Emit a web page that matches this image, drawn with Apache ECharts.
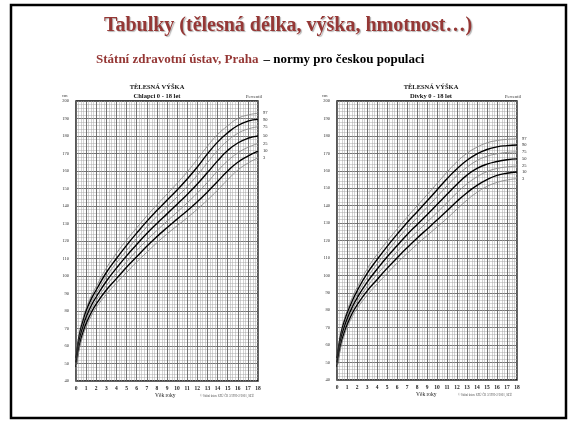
<!DOCTYPE html>
<html><head><meta charset="utf-8">
<script src="https://cdn.jsdelivr.net/npm/echarts@6/dist/echarts.min.js"></script>
<style>html,body{margin:0;padding:0;background:#fff}#c{width:576px;height:424px}</style>
</head><body><div id="c"></div>
<script>
const ages = [0, 0.25, 0.5, 0.75, 1, 1.5, 2, 3, 4, 5, 6, 7, 8, 9, 10, 11, 12, 13, 14, 15, 16, 17, 18];
const percentiles = ['97', '90', '75', '50', '25', '10', '3'];
const xTicks = [0, 18, 1];
const yTicks = [40, 200, 10];

const boysP3  = [46.5, 56, 62.5, 67, 71, 77, 82, 89.5, 96, 102, 108, 113.5, 119, 124, 128.7, 133.3, 138.2, 143.4, 149, 155, 160.5, 164.5, 167.5];
const boysP10 = [48, 57.5, 64, 68.8, 72.8, 79, 84, 92, 98.5, 105, 111, 117, 122.5, 127.6, 132.5, 137.3, 142.4, 148, 154, 160, 165, 168.5, 171.3];
const boysP25 = [49.2, 59, 65.6, 70.4, 74.6, 81, 86, 94.5, 101.5, 108, 114.5, 120.5, 126, 131.3, 136.5, 141.8, 147.4, 153.5, 160, 165.8, 170.3, 173.5, 175.7];
const boysP50 = [50.5, 60.5, 67.2, 72, 76.4, 83, 88, 97, 104.5, 111.5, 118, 124.3, 130, 135.5, 141, 146.6, 152.6, 159.1, 165.8, 171.7, 176, 178.7, 180];
const boysP75 = [51.8, 62, 68.8, 73.7, 78.2, 85, 90, 99.5, 107.5, 114.5, 121.5, 128, 134, 139.6, 145.2, 151.1, 157.6, 164.8, 171.6, 177.3, 181.5, 184, 185.3];
const boysP90 = [53, 63.5, 70.3, 75.3, 80, 86.8, 92, 102, 110, 117.5, 124.5, 131.2, 137.4, 143.3, 149.2, 155.4, 162.3, 169.8, 176.5, 181.8, 186, 188.5, 189.5];
const boysP97 = [54.5, 65, 72, 77, 81.5, 88.5, 94, 104.5, 113, 120.5, 127.5, 134.3, 140.7, 146.8, 153, 159.5, 166.7, 174.2, 180.8, 185.8, 190, 192, 193];

const girlsP3  = [46, 55, 61.5, 66, 70, 76, 81, 88.5, 95, 101, 107, 112.5, 117.8, 122.8, 127.7, 132.7, 138, 143.2, 147.6, 151, 153.3, 154.7, 155.5];
const girlsP10 = [47.5, 56.5, 63, 67.5, 71.5, 78, 83, 91, 97.5, 104, 110, 115.8, 121.3, 126.5, 131.7, 137, 142.5, 147.4, 151.6, 154.9, 157.3, 158.6, 159.3];
const girlsP25 = [48.8, 57.8, 64.5, 69, 73, 79.8, 85, 93.5, 100.5, 107, 113.5, 119.5, 125, 130.5, 136, 141.7, 147.4, 152.5, 156.5, 159.5, 161.3, 162.2, 162.7];
const girlsP50 = [50, 59.2, 66, 70.7, 74.8, 81.5, 87, 96, 103.5, 110.5, 117, 123.3, 129.1, 134.8, 140.6, 146.5, 152.3, 157.5, 161.3, 163.8, 165.3, 166.3, 166.8];
const girlsP75 = [51.2, 60.5, 67.5, 72.3, 76.5, 83.3, 89, 98.5, 106.5, 113.5, 120.5, 127, 133, 139, 145.1, 151.3, 157.2, 162, 165.8, 168.3, 169.7, 170.5, 170.8];
const girlsP90 = [52.5, 62, 69, 73.8, 78, 85, 91, 101, 109, 116.5, 123.5, 130.2, 136.4, 142.6, 149, 155.4, 161.2, 166, 169.7, 172.2, 173.7, 174.4, 174.8];
const girlsP97 = [53.5, 63.3, 70.5, 75.2, 79.5, 87, 93, 103.5, 112, 119.5, 126.5, 133.3, 139.8, 146.2, 152.7, 159.2, 165.2, 170, 173.5, 176, 177.3, 178, 178.3];

const boys = [boysP97, boysP90, boysP75, boysP50, boysP25, boysP10, boysP3];
const girls = [girlsP97, girlsP90, girlsP75, girlsP50, girlsP25, girlsP10, girlsP3];

const SERIF = '"Liberation Serif","Times New Roman",serif';

function xAxis(gi) {
  return {
    type: 'value', gridIndex: gi, min: xTicks[0], max: xTicks[1], interval: xTicks[2],
    axisLine: { show: false }, axisTick: { show: false },
    axisLabel: { fontSize: 5.5, fontFamily: SERIF, color: '#222', margin: 5, fontWeight: 'bold' },
    splitLine: { show: true, lineStyle: { color: '#666', width: 0.9 } },
    minorTick: { show: true, splitNumber: 4, length: 0 },
    minorSplitLine: { show: true, lineStyle: { color: '#a8a8a8', width: 0.5 } }
  };
}
function yAxis(gi) {
  return {
    type: 'value', gridIndex: gi, min: yTicks[0], max: yTicks[1], interval: yTicks[2],
    axisLine: { show: false }, axisTick: { show: false },
    axisLabel: { fontSize: 4.5, fontFamily: SERIF, color: '#333', margin: 7 },
    splitLine: { show: true, lineStyle: { color: '#666', width: 0.9 } },
    minorTick: { show: true, splitNumber: 5, length: 0 },
    minorSplitLine: { show: true, lineStyle: { color: '#a8a8a8', width: 0.5 } }
  };
}
function mkSeries(sets, gi) {
  return sets.map((vals, i) => {
    const major = (i % 2 === 1);
    return {
      type: 'line', name: percentiles[i], xAxisIndex: gi, yAxisIndex: gi,
      data: ages.map((a, k) => [a, vals[k]]),
      smooth: 0.5, symbol: 'none', silent: true, z: 5,
      lineStyle: major ? { color: '#000', width: 1.4 } : { color: '#8a8a8a', width: 0.9 },
      endLabel: { show: true, formatter: '{a}', fontSize: 4.5, fontFamily: SERIF, color: '#222', distance: 5 }
    };
  });
}

const chart = echarts.init(document.getElementById('c'), null, { renderer: 'canvas' });
chart.setOption({
  animation: false,
  backgroundColor: '#fff',
  grid: [
    { left: 76, top: 101, width: 182, height: 280, show: true, borderColor: '#000', borderWidth: 1.3, backgroundColor: 'transparent' },
    { left: 337, top: 101, width: 180, height: 279, show: true, borderColor: '#000', borderWidth: 1.3, backgroundColor: 'transparent' }
  ],
  xAxis: [xAxis(0), xAxis(1)],
  yAxis: [yAxis(0), yAxis(1)],
  title: [
    { text: 'Tabulky (tělesná délka, výška, hmotnost…)', left: 'center', top: 11,
      textStyle: { fontFamily: SERIF, fontSize: 20, fontWeight: 'bold', color: '#953735',
        textShadowColor: 'rgba(0,0,0,0.3)', textShadowOffsetX: 1.2, textShadowOffsetY: 1.2, textShadowBlur: 1 } },
    { text: '{r|Státní zdravotní ústav, Praha} {b|– normy pro českou populaci}', left: 91, top: 46,
      textStyle: { rich: {
        r: { fontFamily: SERIF, fontSize: 13, fontWeight: 'bold', color: '#953735' },
        b: { fontFamily: SERIF, fontSize: 13, fontWeight: 'bold', color: '#000' } } } },
    { text: 'TĚLESNÁ VÝŠKA', subtext: 'Chlapci 0 - 18 let', left: 152, textAlign: 'center', top: 79, itemGap: 2,
      textStyle: { fontFamily: SERIF, fontSize: 6.5, fontWeight: 'bold', color: '#111' },
      subtextStyle: { fontFamily: SERIF, fontSize: 6.5, fontWeight: 'bold', color: '#111' } },
    { text: 'TĚLESNÁ VÝŠKA', subtext: 'Dívky 0 - 18 let', left: 426, textAlign: 'center', top: 79, itemGap: 2,
      textStyle: { fontFamily: SERIF, fontSize: 6.5, fontWeight: 'bold', color: '#111' },
      subtextStyle: { fontFamily: SERIF, fontSize: 6.5, fontWeight: 'bold', color: '#111' } }
  ],
  graphic: [
    { type: 'rect', shape: { x: 11, y: 5, width: 555, height: 413 }, style: { fill: 'none', stroke: '#000', lineWidth: 2.5 }, silent: true },
    { type: 'text', left: 62, top: 93, style: { text: 'cm', fontSize: 4.5, fontFamily: SERIF, fill: '#333' } },
    { type: 'text', left: 322, top: 93, style: { text: 'cm', fontSize: 4.5, fontFamily: SERIF, fill: '#333' } },
    { type: 'text', left: 246, top: 94, style: { text: 'Percentil', fontSize: 4.5, fontFamily: SERIF, fill: '#333' } },
    { type: 'text', left: 505, top: 94, style: { text: 'Percentil', fontSize: 4.5, fontFamily: SERIF, fill: '#333' } },
    { type: 'text', left: 155, top: 393, style: { text: 'Věk roky', fontSize: 5.5, fontFamily: SERIF, fill: '#222' } },
    { type: 'text', left: 416, top: 392, style: { text: 'Věk roky', fontSize: 5.5, fontFamily: SERIF, fill: '#222' } },
    { type: 'text', left: 200, top: 395, style: { text: '© Státní ústav SZÚ ČR 3/1993-2/2001, SZÚ', fontSize: 3, fontFamily: SERIF, fill: '#555' } },
    { type: 'text', left: 458, top: 394, style: { text: '© Státní ústav SZÚ ČR 3/1993-2/2001, SZÚ', fontSize: 3, fontFamily: SERIF, fill: '#555' } }
  ],
  series: [...mkSeries(boys, 0), ...mkSeries(girls, 1)]
});
</script></body></html>
